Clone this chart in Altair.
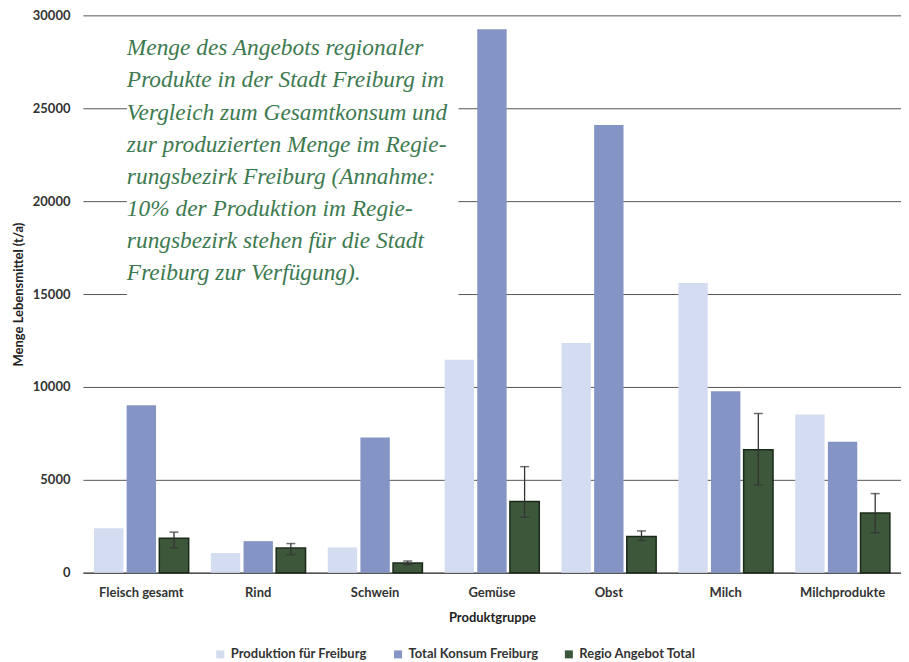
import altair as alt
import pandas as pd

kategorien = ["Fleisch gesamt", "Rind", "Schwein", "Gemüse", "Obst", "Milch", "Milchprodukte"]
serien = ["Produktion für Freiburg", "Total Konsum Freiburg", "Regio Angebot Total"]

produktion = [2400, 1060, 1360, 11470, 12360, 15600, 8520]
konsum = [9020, 1700, 7280, 29250, 24100, 9770, 7050]
regio = [1860, 1325, 520, 3830, 1950, 6620, 3220]
regio_hoch = [2185, 1570, 630, 5710, 2250, 8570, 4260]
regio_tief = [1340, 970, 430, 2990, 1735, 4720, 2150]

y_ticks = [0, 5000, 10000, 15000, 20000, 25000, 30000]

titel_zeilen = [
    "Menge des Angebots regionaler",
    "Produkte in der Stadt Freiburg im",
    "Vergleich zum Gesamtkonsum und",
    "zur produzierten Menge im Regie-",
    "rungsbezirk Freiburg (Annahme:",
    "10% der Produktion im Regie-",
    "rungsbezirk stehen für die Stadt",
    "Freiburg zur Verfügung).",
]

farben = ["#d4dcf1", "#8494c4", "#3d573a"]

rows = []
for i, k in enumerate(kategorien):
    for s, vals in zip(serien, [produktion, konsum, regio]):
        rows.append({"Kategorie": k, "Serie": s, "Wert": vals[i]})
df = pd.DataFrame(rows)

df_err = pd.DataFrame({
    "Kategorie": kategorien,
    "Serie": [serien[2]] * len(kategorien),
    "hoch": regio_hoch,
    "tief": regio_tief,
})

FONT = "Lato"

x_enc = alt.X(
    "Kategorie:N",
    sort=kategorien,
    scale=alt.Scale(paddingInner=0.19, paddingOuter=0.095),
    axis=alt.Axis(
        title="Produktgruppe",
        labelAngle=0,
        ticks=False,
        domainColor="#555555",
        domainWidth=1.5,
        labelFont=FONT,
        labelFontWeight="bold",
        labelFontSize=13,
        labelColor="#333333",
        labelPadding=14,
        titleFont=FONT,
        titleFontWeight="bold",
        titleFontSize=13,
        titleColor="#222222",
        titlePadding=12,
        grid=False,
    ),
)
xoff_enc = alt.XOffset("Serie:N", sort=serien, scale=alt.Scale(domain=serien, paddingInner=0.1))

y_scale = alt.Scale(domain=[0, 30000], nice=False)
y_axis = alt.Axis(
    title="Menge Lebensmittel (t/a)",
    values=y_ticks,
    format="d",
    ticks=False,
    domain=False,
    grid=True,
    gridColor="#555555",
    gridWidth=1,
    labelFont=FONT,
    labelFontWeight="bold",
    labelFontSize=13,
    labelColor="#333333",
    labelPadding=13,
    titleFont=FONT,
    titleFontWeight="bold",
    titleFontSize=13,
    titleColor="#222222",
    titlePadding=7,
)

bars = alt.Chart(df).mark_bar().encode(
    x=x_enc,
    xOffset=xoff_enc,
    y=alt.Y("Wert:Q", scale=y_scale, axis=y_axis),
    color=alt.Color(
        "Serie:N",
        sort=serien,
        scale=alt.Scale(domain=serien, range=farben),
        legend=alt.Legend(
            title=None,
            orient="none",
            direction="horizontal",
            legendX=131,
            legendY=633,
            symbolType="square",
            symbolSize=64,
            symbolStrokeWidth=0,
            labelOffset=4,
            labelFont=FONT,
            labelFontWeight="bold",
            labelFontSize=13,
            labelColor="#333333",
            columnPadding=24,
        ),
    ),
    stroke=alt.condition(
        alt.datum.Serie == serien[2], alt.value("#1c2a1b"), alt.value("transparent")
    ),
    strokeWidth=alt.condition(alt.datum.Serie == serien[2], alt.value(1.5), alt.value(0)),
)

err_rule = alt.Chart(df_err).mark_rule(color="#333333", strokeWidth=1.3).encode(
    x=alt.X("Kategorie:N", sort=kategorien),
    xOffset=xoff_enc,
    y=alt.Y("tief:Q", scale=y_scale),
    y2="hoch:Q",
)
cap_hi = alt.Chart(df_err).mark_tick(color="#333333", thickness=1.5, size=9, orient="horizontal").encode(
    x=alt.X("Kategorie:N", sort=kategorien),
    xOffset=xoff_enc,
    y=alt.Y("hoch:Q", scale=y_scale),
)
cap_lo = alt.Chart(df_err).mark_tick(color="#333333", thickness=1.5, size=9, orient="horizontal").encode(
    x=alt.X("Kategorie:N", sort=kategorien),
    xOffset=xoff_enc,
    y=alt.Y("tief:Q", scale=y_scale),
)

box = alt.Chart(pd.DataFrame({"a": [0]})).mark_rect(color="white").encode(
    x=alt.value(44), x2=alt.value(376), y=alt.value(10), y2=alt.value(286)
)
titel = alt.Chart(pd.DataFrame({"a": [0]})).mark_text(
    text=titel_zeilen,
    align="left",
    baseline="middle",
    font="Liberation Serif",
    fontStyle="italic",
    fontSize=23.4,
    lineHeight=32.2,
    color="#3d7a50",
).encode(x=alt.value(44), y=alt.value(33))

chart = alt.layer(box, bars, err_rule, cap_hi, cap_lo, titel).properties(
    width=819,
    height=558,
    autosize="none",
    padding={"left": 75, "top": 7, "right": 0, "bottom": 88},
).configure_view(stroke=None)

chart.save("out.html", embed_options={"renderer": "svg", "actions": False})
